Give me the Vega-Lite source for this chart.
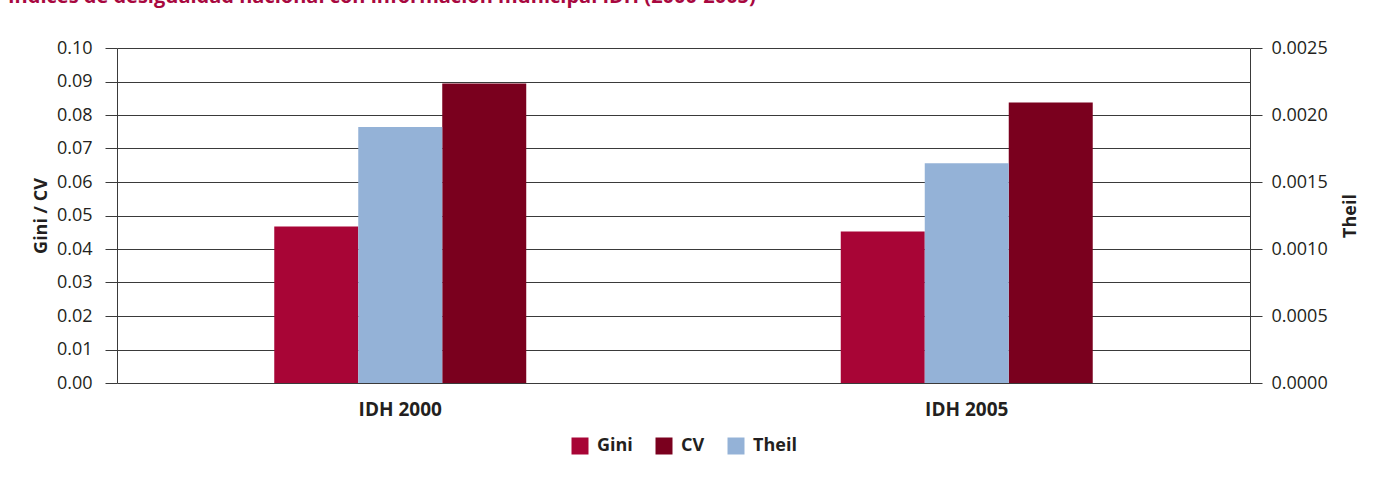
{
  "$schema": "https://vega.github.io/schema/vega-lite/v6.json",
  "autosize": {"type": "none"},
  "padding": {"left": 117, "top": 48, "right": 127, "bottom": 102},
  "width": 1133,
  "height": 335,
  "background": "white",
  "title": {
    "text": "Índices de desigualdad nacional con información municipal IDH (2000-2005)",
    "anchor": "start",
    "frame": "group",
    "dx": -109,
    "offset": 16,
    "baseline": "alphabetic",
    "font": "Open Sans",
    "fontSize": 20,
    "fontWeight": "bold",
    "color": "#A8083F"
  },
  "data": {
    "values": [
      {"periodo": "IDH 2000", "indicador": "Gini", "valor": 0.0467},
      {"periodo": "IDH 2000", "indicador": "Theil", "valor": 0.00191},
      {"periodo": "IDH 2000", "indicador": "CV", "valor": 0.0894},
      {"periodo": "IDH 2005", "indicador": "Gini", "valor": 0.0452},
      {"periodo": "IDH 2005", "indicador": "Theil", "valor": 0.00164},
      {"periodo": "IDH 2005", "indicador": "CV", "valor": 0.0837}
    ]
  },
  "encoding": {
    "x": {
      "field": "periodo",
      "type": "nominal",
      "scale": {"paddingInner": 0.5552, "paddingOuter": 0.2776},
      "axis": {
        "title": null,
        "labelAngle": 0,
        "ticks": false,
        "domain": false,
        "labelPadding": 17,
        "labelFont": "Open Sans",
        "labelFontSize": 19,
        "labelFontWeight": "bold",
        "labelColor": "#231F20"
      }
    },
    "xOffset": {
      "field": "indicador",
      "type": "nominal",
      "scale": {"domain": ["Gini", "Theil", "CV"], "paddingInner": 0, "paddingOuter": 0}
    },
    "color": {
      "field": "indicador",
      "type": "nominal",
      "scale": {"domain": ["Gini", "CV", "Theil"], "range": ["#A80536", "#7A001E", "#94B2D7"]},
      "legend": {
        "title": null,
        "orient": "none",
        "direction": "horizontal",
        "legendX": 454,
        "legendY": 389,
        "padding": 0,
        "symbolType": "square",
        "symbolSize": 289,
        "symbolStrokeWidth": 0,
        "symbolOpacity": 1,
        "labelOffset": 8,
        "columnPadding": 22,
        "labelFont": "Open Sans",
        "labelFontSize": 18,
        "labelFontWeight": "bold",
        "labelColor": "#231F20"
      }
    }
  },
  "layer": [
    {
      "transform": [{"filter": "datum.indicador !== 'Theil'"}],
      "mark": {"type": "bar"},
      "encoding": {
        "y": {
          "field": "valor",
          "type": "quantitative",
          "scale": {"domain": [0, 0.1], "nice": false},
          "axis": {
            "orient": "left",
            "title": "Gini / CV",
            "values": [0, 0.01, 0.02, 0.03, 0.04, 0.05, 0.06, 0.07, 0.08, 0.09, 0.1],
            "format": ".2f",
            "grid": true,
            "gridColor": "#3a3a3a",
            "gridOpacity": 1,
            "gridWidth": 1,
            "domain": true,
            "domainColor": "#3a3a3a",
            "ticks": true,
            "tickSize": 12,
            "tickColor": "#3a3a3a",
            "labelPadding": 13,
            "labelFont": "Open Sans",
            "labelFontSize": 18,
            "labelColor": "#231F20",
            "titleFont": "Open Sans",
            "titleFontSize": 18,
            "titleFontWeight": "bold",
            "titleColor": "#231F20",
            "titlePadding": 6
          }
        }
      }
    },
    {
      "transform": [{"filter": "datum.indicador === 'Theil'"}],
      "mark": {"type": "bar"},
      "encoding": {
        "y": {
          "field": "valor",
          "type": "quantitative",
          "scale": {"domain": [0, 0.0025], "nice": false},
          "axis": {
            "orient": "right",
            "title": "Theil",
            "titleAngle": -90,
            "values": [0, 0.0005, 0.001, 0.0015, 0.002, 0.0025],
            "format": ".4f",
            "grid": false,
            "domain": true,
            "domainColor": "#3a3a3a",
            "ticks": true,
            "tickSize": 12,
            "tickColor": "#3a3a3a",
            "labelPadding": 9,
            "labelFont": "Open Sans",
            "labelFontSize": 18,
            "labelColor": "#231F20",
            "titleFont": "Open Sans",
            "titleFontSize": 18,
            "titleFontWeight": "bold",
            "titleColor": "#231F20",
            "titlePadding": 32
          }
        }
      }
    }
  ],
  "resolve": {"scale": {"y": "independent"}},
  "config": {"view": {"stroke": null}}
}
